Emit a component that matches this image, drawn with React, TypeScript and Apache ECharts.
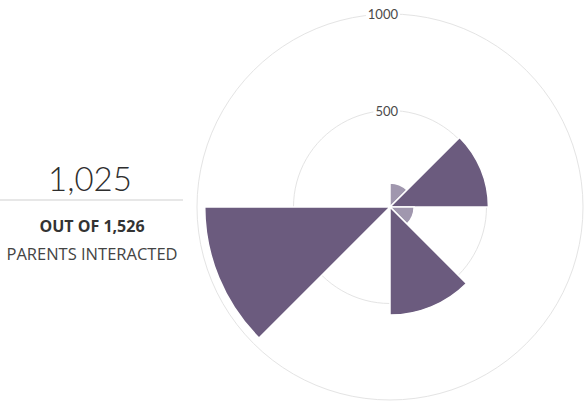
import React, { useEffect, useRef } from "react";
import * as echarts from "echarts";

const categories = ["00–03", "03–06", "06–09", "09–12", "12–15", "15–18", "18–21", "21–24"];
const values = [125, 510, 125, 560, 0, 960, 0, 0];
const isMinor = [true, false, true, false, false, false, false, false];
const radiusTicks = [0, 500, 1000];
const headline = "1,025";
const subline = "OUT OF 1,526";
const caption = "PARENTS INTERACTED";

const DARK = "#6b5b7e";
const LIGHT = "#a097ae";

export default function App() {
  const ref = useRef<HTMLDivElement>(null);
  useEffect(() => {
    document.body.style.margin = "0";
    if (!ref.current) return;
    const chart = echarts.init(ref.current, undefined, { renderer: "svg" });
    chart.setOption({
      animation: false,
      backgroundColor: "#ffffff",
      polar: { center: [390, 207], radius: 193 },
      angleAxis: {
        type: "category",
        data: categories,
        startAngle: 90,
        clockwise: true,
        axisLine: { show: false },
        axisTick: { show: false },
        axisLabel: { show: false },
        splitLine: { show: false },
      },
      radiusAxis: {
        type: "value",
        min: radiusTicks[0],
        max: radiusTicks[radiusTicks.length - 1],
        interval: radiusTicks[1] - radiusTicks[0],
        axisLine: { show: false },
        axisTick: { show: false },
        splitLine: { show: true, lineStyle: { color: "#e4e4e4", width: 1 } },
        axisLabel: {
          showMinLabel: false,
          margin: -10,
          formatter: (v: number) => String(v),
          color: "#4a4a4a",
          fontSize: 13,
          fontFamily: "Lato, 'Open Sans', sans-serif",
          backgroundColor: "#ffffff",
          padding: [1, 2],
        },
      },
      series: [
        {
          type: "bar",
          coordinateSystem: "polar",
          barCategoryGap: "0%",
          z: 5,
          data: values.map((v, i) => ({
            value: v,
            itemStyle: { color: isMinor[i] ? LIGHT : DARK },
          })),
          itemStyle: { borderColor: "#ffffff", borderWidth: 1.5 },
        },
      ],
      graphic: [
        {
          type: "text",
          style: {
            text: headline,
            x: 90,
            y: 178,
            textAlign: "center",
            textVerticalAlign: "middle",
            fill: "#2e2e2e",
            font: "300 33px Lato, 'Open Sans', sans-serif",
          },
        },
        {
          type: "line",
          shape: { x1: 0, y1: 200, x2: 183, y2: 200 },
          style: { stroke: "#cfcfcf", lineWidth: 1 },
        },
        {
          type: "text",
          style: {
            text: subline,
            x: 92,
            y: 226,
            textAlign: "center",
            textVerticalAlign: "middle",
            fill: "#333333",
            font: "bold 16px 'Open Sans', Lato, sans-serif",
          },
        },
        {
          type: "text",
          style: {
            text: caption,
            x: 92,
            y: 253,
            textAlign: "center",
            textVerticalAlign: "middle",
            fill: "#444444",
            font: "16.5px 'Open Sans', Lato, sans-serif",
          },
        },
      ],
    });
    return () => chart.dispose();
  }, []);
  return <div ref={ref} style={{ width: 585, height: 402 }} />;
}
